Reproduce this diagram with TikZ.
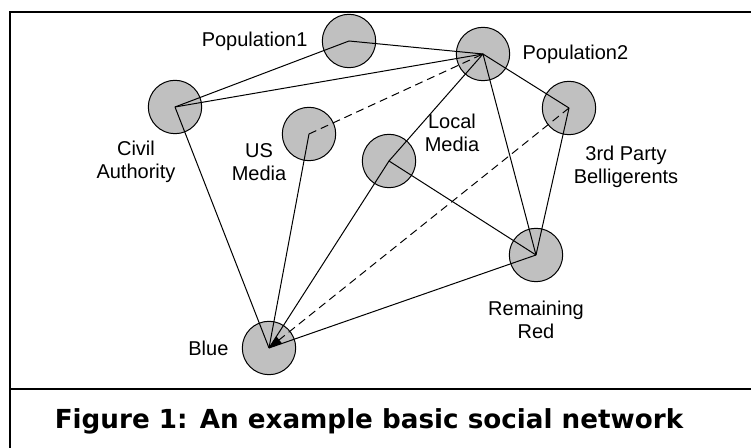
\documentclass[tikz,border=0pt]{standalone}
\usepackage{fontspec}
\setmainfont{Liberation Sans}
\newfontfamily\captionfont{DejaVu Sans}
\usepackage{tikz}
\usetikzlibrary{arrows.meta, positioning}
\definecolor{actorfill}{RGB}{192, 192, 192}
\definecolor{inkline}{RGB}{0, 0, 0}
\tikzset{
  font=\fontsize{10}{11.5}\selectfont,
  actor/.style={
    circle, draw=inkline, fill=actorfill, line width=0.5pt,
    minimum size=26.7pt, inner sep=0pt
  },
  actorlabel/.style={align=center, inner sep=0pt},
  tie/.style={draw=inkline, line width=0.5pt},
  weaktie/.style={tie, dash pattern=on 4pt off 2.5pt},
  frameline/.style={draw=inkline, line width=1.25pt}
}

\begin{document}
\begin{tikzpicture}[x=0.5pt, y=-0.5pt]
  \useasboundingbox (0,0) rectangle (751,448);

  % Frame and caption box
  \draw[frameline] (10,448) -- (10,12) -- (751,12);
  \draw[frameline] (10,389) -- (751,389);

  % Actors
  \node[actor] (pop1) at (349,41) {};
  \node[actor] (pop2) at (483,54) {};
  \node[actor] (civil) at (175,107) {};
  \node[actor] (usmedia) at (309,134) {};
  \node[actor] (local) at (389,161) {};
  \node[actor] (third) at (569,108) {};
  \node[actor] (red) at (536,255) {};
  \node[actor] (blue) at (269,348) {};

  % Labels
  \node[actorlabel, left=7pt of pop1] (pop1lbl) {Population1};
  \node[actorlabel, right=6pt of pop2] (pop2lbl) {Population2};
  \node[actorlabel] (civillbl) at (136,162) {Civil\\Authority};
  \node[actorlabel] (usmedialbl) at (259,162) {US\\Media};
  \node[actorlabel] (locallbl) at (452,133) {Local\\Media};
  \node[actorlabel] (thirdlbl) at (626,167) {3rd Party\\Belligerents};
  \node[actorlabel, below=9pt of red] (redlbl) {Remaining\\Red};
  \node[actorlabel, left=6.5pt of blue] (bluelbl) {Blue};

  % Ties
  \draw[tie] (pop1.center) -- (pop2.center);
  \draw[tie] (civil.center) -- (pop1.center);
  \draw[tie] (civil.center) -- (pop2.center);
  \draw[tie] (civil.center) -- (blue.center);
  \draw[weaktie] (usmedia.center) -- (pop2.center);
  \draw[tie] (usmedia.center) -- (blue.center);
  \draw[tie] (local.center) -- (pop2.center);
  \draw[tie] (local.center) -- (blue.center);
  \draw[tie] (local.center) -- (red.center);
  \draw[tie] (pop2.center) -- (red.center);
  \draw[tie] (pop2.center) -- (third.center);
  \draw[tie] (third.center) -- (red.center);
  \draw[weaktie, -{Triangle[length=6.5pt, width=4.5pt]}] (third.center) -- (blue.center);
  \draw[tie] (red.center) -- (blue.center);

  % Caption
  \node[font=\captionfont\bfseries\fontsize{13.1}{16}\selectfont, anchor=base] (caption) at (369,429)
    {Figure 1: An example basic social network};

\end{tikzpicture}
\end{document}
